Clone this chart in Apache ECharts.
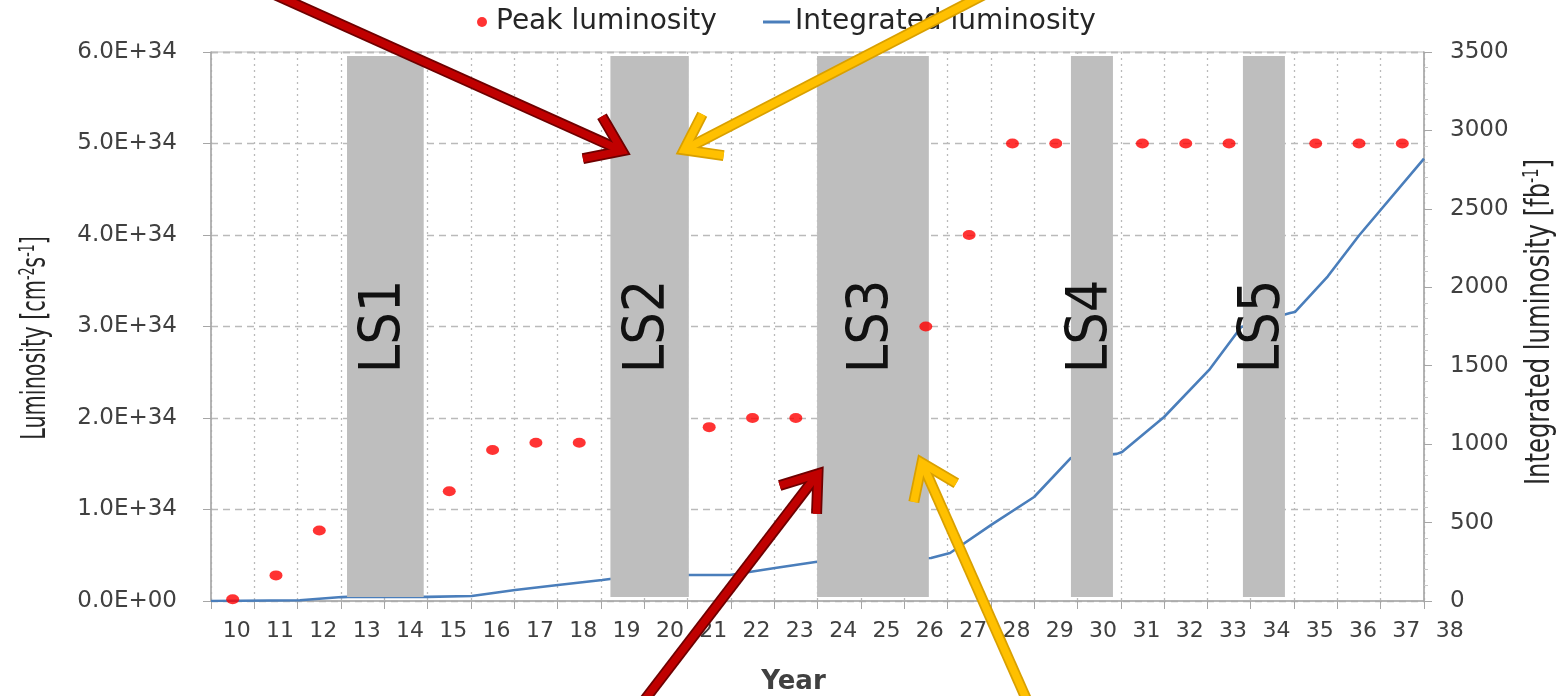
<!DOCTYPE html>
<html>
<head>
<meta charset="utf-8">
<title>LHC luminosity plan</title>
<script src="https://cdn.jsdelivr.net/npm/echarts@6/dist/echarts.min.js"></script>
<style>
  html, body { margin: 0; padding: 0; background: #ffffff; }
  #chart { width: 1558px; height: 696px; }
</style>
</head>
<body>
<div id="chart"></div>
<script>
// ---- data ----
const yearLabels = ['10','11','12','13','14','15','16','17','18','19','20','21','22','23',
                    '24','25','26','27','28','29','30','31','32','33','34','35','36','37'];
const lastYearLabel = '38';

// Peak luminosity per year [cm^-2 s^-1]
const peakYears  = [10, 11, 12, 15, 16, 17, 18, 21, 22, 23, 26, 27, 28, 29, 31, 32, 33, 35, 36, 37];
const peakValues = [0.02e34, 0.28e34, 0.77e34, 1.2e34, 1.65e34, 1.73e34, 1.73e34, 1.9e34, 2.0e34, 2.0e34,
                    3.0e34, 4.0e34, 5.0e34, 5.0e34, 5.0e34, 5.0e34, 5.0e34, 5.0e34, 5.0e34, 5.0e34];

// Integrated luminosity [fb^-1] along the time axis (year units)
const intYears  = [9.5, 11.55, 12.52, 12.66, 14.51, 15.52, 16.52, 17.51, 18.53, 18.71, 20.53, 21.48,
                   22.52, 23.49, 26.12, 26.56, 27.51, 28.50, 29.35, 30.41, 30.53, 31.50, 32.54, 33.28,
                   34.41, 34.52, 35.28, 36.0, 37.5];
const intValues = [0, 5, 25, 26, 26, 32, 70, 102, 134, 140, 166, 166,
                   210, 250, 274, 306, 485, 663, 912, 938, 950, 1173, 1473, 1747,
                   1836, 1842, 2070, 2330, 2820];

// Long shutdowns
const shutdownNames = ['LS1', 'LS2', 'LS3', 'LS4', 'LS5'];
const shutdownStart = [12.64, 18.72, 23.49, 29.35, 33.32];
const shutdownEnd   = [14.41, 20.53, 26.07, 30.32, 34.29];

// Callout arrows: [year, luminosity] tail -> head
const arrowTails = [[10.63, 6.70e34], [27.48, 6.66e34], [19.30, -1.21e34], [28.45, -1.21e34]];
const arrowHeads = [[18.99, 4.92e34], [20.42, 4.93e34], [23.51, 1.39e34], [25.91, 1.51e34]];
const arrowKinds = ['red', 'yellow', 'red', 'yellow'];

// Axis ticks and titles
const lumMax = 6e34, lumStep = 1e34;
const intMax = 3500, intStep = 500;
const leftTitle = 'Luminosity [cm{sup|-2}s{sup|-1}]';
const rightTitle = 'Integrated luminosity [fb{sup|-1}]';

// ---- styles ----
const LABEL_COLOR = '#404040';
const AXIS_COLOR = '#a6a6a6';
const GRID_COLOR = '#bababa';
const NARROW = '"DejaVu Sans Condensed", "DejaVu Sans", sans-serif';
const WIDE = '"DejaVu Sans", Verdana, sans-serif';

function sci(v) {
  if (v === 0) return '0.0E+00';
  const e = Math.floor(Math.log10(Math.abs(v)) + 1e-9);
  const m = v / Math.pow(10, e);
  return m.toFixed(1) + 'E+' + String(e).padStart(2, '0');
}

const chart = echarts.init(document.getElementById('chart'), null, { renderer: 'canvas' });

const option = {
  backgroundColor: '#ffffff',
  animation: false,
  grid: {
    left: 211, right: 134, top: 52, bottom: 95,
    show: true, borderColor: '#bfbfbf', borderWidth: 1,
    containLabel: false, outerBoundsMode: 'none'
  },
  legend: [
    {
      data: [{ name: 'Peak luminosity', icon: 'circle' }],
      left: 477, top: 8, padding: 0,
      itemWidth: 10, itemHeight: 10,
      textStyle: { fontFamily: WIDE, fontSize: 28, color: '#262626', padding: [0, 0, 0, 4] },
      selectedMode: false
    },
    {
      data: [{ name: 'Integrated luminosity', icon: 'rect' }],
      left: 763, top: 8, padding: 0,
      itemWidth: 27, itemHeight: 3,
      textStyle: { fontFamily: WIDE, fontSize: 28, color: '#262626' },
      selectedMode: false
    }
  ],
  xAxis: [
    {
      type: 'category',
      data: yearLabels,
      boundaryGap: true,
      name: 'Year',
      nameLocation: 'middle',
      nameGap: 68,
      nameTextStyle: { fontFamily: WIDE, fontSize: 26, fontWeight: 'bold', color: LABEL_COLOR, padding: [0, 48, 0, 0] },
      axisLine: { show: true, lineStyle: { color: AXIS_COLOR, width: 1.5 } },
      axisTick: { show: true, length: 8, inside: false, lineStyle: { color: AXIS_COLOR } },
      axisLabel: { interval: 0, margin: 19, fontFamily: WIDE, fontSize: 22, color: LABEL_COLOR, padding: [0, 0, 0, 8] },
      splitLine: { show: true, interval: 0, lineStyle: { color: GRID_COLOR, type: [2, 4], width: 1.3 } }
    },
    {
      type: 'value',
      min: 9.5, max: 37.5,
      show: false
    }
  ],
  yAxis: [
    {
      type: 'value',
      min: 0, max: lumMax, interval: lumStep,
      axisLine: { show: true, lineStyle: { color: AXIS_COLOR, width: 1.5 } },
      axisTick: { show: true, length: 8, lineStyle: { color: AXIS_COLOR } },
      axisLabel: { margin: 34, fontFamily: WIDE, fontSize: 23, color: LABEL_COLOR, formatter: sci },
      splitLine: { show: true, lineStyle: { color: GRID_COLOR, type: [7, 5], width: 1.3 } }
    },
    {
      type: 'value',
      position: 'right',
      min: 0, max: intMax, interval: intStep,
      axisLine: { show: true, lineStyle: { color: AXIS_COLOR, width: 1.5 } },
      axisTick: { show: true, length: 8, lineStyle: { color: AXIS_COLOR } },
      minorTick: { show: true, splitNumber: 5, length: 4, lineStyle: { color: '#c8c8c8' } },
      axisLabel: { margin: 26, fontFamily: WIDE, fontSize: 23, color: LABEL_COLOR, formatter: v => String(v) },
      splitLine: { show: false }
    }
  ],
  series: [
    {
      name: 'Integrated luminosity',
      type: 'line',
      xAxisIndex: 1, yAxisIndex: 1,
      data: intYears.map((y, i) => [y, intValues[i]]),
      showSymbol: false,
      symbol: 'none',
      color: '#4a7ebb',
      lineStyle: { color: '#4a7ebb', width: 2.6 },
      z: 2
    },
    {
      name: 'Long shutdowns',
      type: 'custom',
      xAxisIndex: 1, yAxisIndex: 0,
      data: shutdownStart.map((s, i) => [s, shutdownEnd[i]]),
      renderItem: function (params, api) {
        const x0 = api.coord([api.value(0), 0]);
        const x1 = api.coord([api.value(1), lumMax]);
        const mid = api.coord([(api.value(0) + api.value(1)) / 2, 3e34]);
        const top = x1[1] + 4, bottom = x0[1] - 4;
        return {
          type: 'group',
          children: [
            {
              type: 'rect',
              shape: { x: x0[0], y: top, width: x1[0] - x0[0], height: bottom - top },
              style: { fill: '#bebebe' }
            },
            {
              type: 'text',
              x: mid[0], y: mid[1],
              rotation: Math.PI / 2,
              style: {
                text: shutdownNames[params.dataIndex],
                fontFamily: NARROW, fontSize: 57, fill: '#111111',
                align: 'center', verticalAlign: 'middle',
                textAlign: 'center', textVerticalAlign: 'middle'
              }
            }
          ]
        };
      },
      silent: true,
      z: 3
    },
    {
      name: 'Peak luminosity',
      type: 'scatter',
      xAxisIndex: 1, yAxisIndex: 0,
      data: peakYears.map((y, i) => [y, peakValues[i]]),
      symbol: 'circle',
      symbolSize: [13, 10],
      color: '#ff0000',
      itemStyle: { color: '#ff0000' },
      z: 4
    }
  ]
};

chart.setOption(option);

// ---- overlay: axis titles, last year label and callout arrows ----
function toPx(p) {
  return chart.convertToPixel({ xAxisIndex: 1, yAxisIndex: 0 }, p);
}

const graphics = [];

function titleText(text, x, y, stretch) {
  return {
    type: 'text',
    x: x, y: y,
    rotation: Math.PI / 2,
    scaleX: stretch,
    scaleY: 1.15,
    style: {
      text: text,
      fontFamily: NARROW, fontSize: 30, fill: '#262626',
      align: 'center', verticalAlign: 'middle',
      textAlign: 'center', textVerticalAlign: 'middle',
      rich: { sup: { fontFamily: NARROW, fontSize: 18, verticalAlign: 'top', fill: '#262626' } }
    },
    z: 40
  };
}
graphics.push(titleText(leftTitle, 36, 338, 0.77));
graphics.push(titleText(rightTitle, 1540, 322, 0.9));

// "38" label continues the year scale one step past the plot edge
const axisY = toPx([9.5, 0])[1];
const lastX = chart.convertToPixel({ xAxisIndex: 1 }, Number(lastYearLabel)) + 4;
graphics.push({
  type: 'text',
  x: lastX, y: axisY + 19,
  style: {
    text: lastYearLabel, fontFamily: WIDE, fontSize: 22, fill: LABEL_COLOR,
    align: 'center', verticalAlign: 'top', textAlign: 'center', textVerticalAlign: 'top'
  },
  z: 50
});

const arrowStyles = {
  red:    { edge: '#6e0000', body: '#c00000' },
  yellow: { edge: '#d9a000', body: '#ffc000' }
};

arrowTails.forEach(function (tail, i) {
  const t = toPx(tail), h = toPx(arrowHeads[i]);
  const dx = h[0] - t[0], dy = h[1] - t[1];
  const len = Math.sqrt(dx * dx + dy * dy);
  const ux = dx / len, uy = dy / len;
  const barb = 40, ang = 0.62;
  const cos = Math.cos(ang), sin = Math.sin(ang);
  // back-pointing barbs rotated either side of the shaft
  const b1 = [h[0] - barb * (ux * cos - uy * sin), h[1] - barb * (uy * cos + ux * sin)];
  const b2 = [h[0] - barb * (ux * cos + uy * sin), h[1] - barb * (uy * cos - ux * sin)];
  const st = arrowStyles[arrowKinds[i]];
  [[st.edge, 11], [st.body, 7.5]].forEach(function (layer, k) {
    graphics.push({
      type: 'polyline',
      shape: { points: [t, h] },
      style: { stroke: layer[0], lineWidth: layer[1], lineCap: 'butt', fill: null },
      z: 60 + k
    });
    graphics.push({
      type: 'polyline',
      shape: { points: [b1, h, b2] },
      style: { stroke: layer[0], lineWidth: layer[1], lineCap: 'butt', lineJoin: 'miter', miterLimit: 6, fill: null },
      z: 60 + k
    });
  });
});

chart.setOption({ graphic: graphics });
</script>
</body>
</html>
